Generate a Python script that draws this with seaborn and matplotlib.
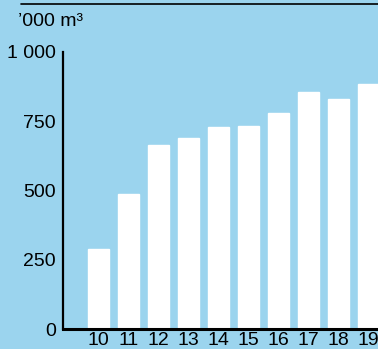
import matplotlib
matplotlib.use('Agg')
import matplotlib.pyplot as plt
import seaborn as sns
import pandas as pd

# Données
annees = ['10', '11', '12', '13', '14', '15', '16', '17', '18', '19']
volumes = [290, 489, 663, 688, 728, 732, 779, 855, 830, 884]

df = pd.DataFrame({'annee': annees, 'volume': volumes})

fond = '#9bd4ee'

sns.set_style('white')
plt.rcParams['font.family'] = ['Liberation Sans', 'DejaVu Sans']
plt.rcParams['text.color'] = 'black'
plt.rcParams['xtick.color'] = 'black'
plt.rcParams['ytick.color'] = 'black'

fig = plt.figure(figsize=(3.78, 3.49), dpi=100, facecolor=fond)
ax = fig.add_axes([63 / 378, 20 / 349, 1 - 63 / 378, 277 / 349])
ax.set_facecolor(fond)

sns.barplot(x='annee', y='volume', data=df, color='white', saturation=1,
            width=0.7, ax=ax)

ax.set_xlim(-1.18, 9.32)
ax.set_ylim(0, 1000)
ax.set_yticks([0, 250, 500, 750, 1000])
ax.set_yticklabels(['0', '250', '500', '750', '1 000'], fontsize=14)
ax.tick_params(axis='y', direction='in', length=7, width=1.5, color='black', pad=5)
ax.tick_params(axis='x', length=0, labelsize=14, pad=2)
ax.set_xlabel('')
ax.set_ylabel('')

for s in ['top', 'right']:
    ax.spines[s].set_visible(False)
ax.spines['left'].set_linewidth(1.6)
ax.spines['bottom'].set_linewidth(2.2)
ax.spines['left'].set_color('black')
ax.spines['bottom'].set_color('black')

# Ligne du haut et unité
fig.add_artist(plt.Line2D([21 / 378, 1], [1 - 4 / 349, 1 - 4 / 349],
                          color='black', linewidth=1.2))
fig.text(18 / 378, 1 - 22 / 349, "’000 m³", fontsize=14, va='center', ha='left')

fig.savefig('out.png', dpi=100, facecolor=fond)
